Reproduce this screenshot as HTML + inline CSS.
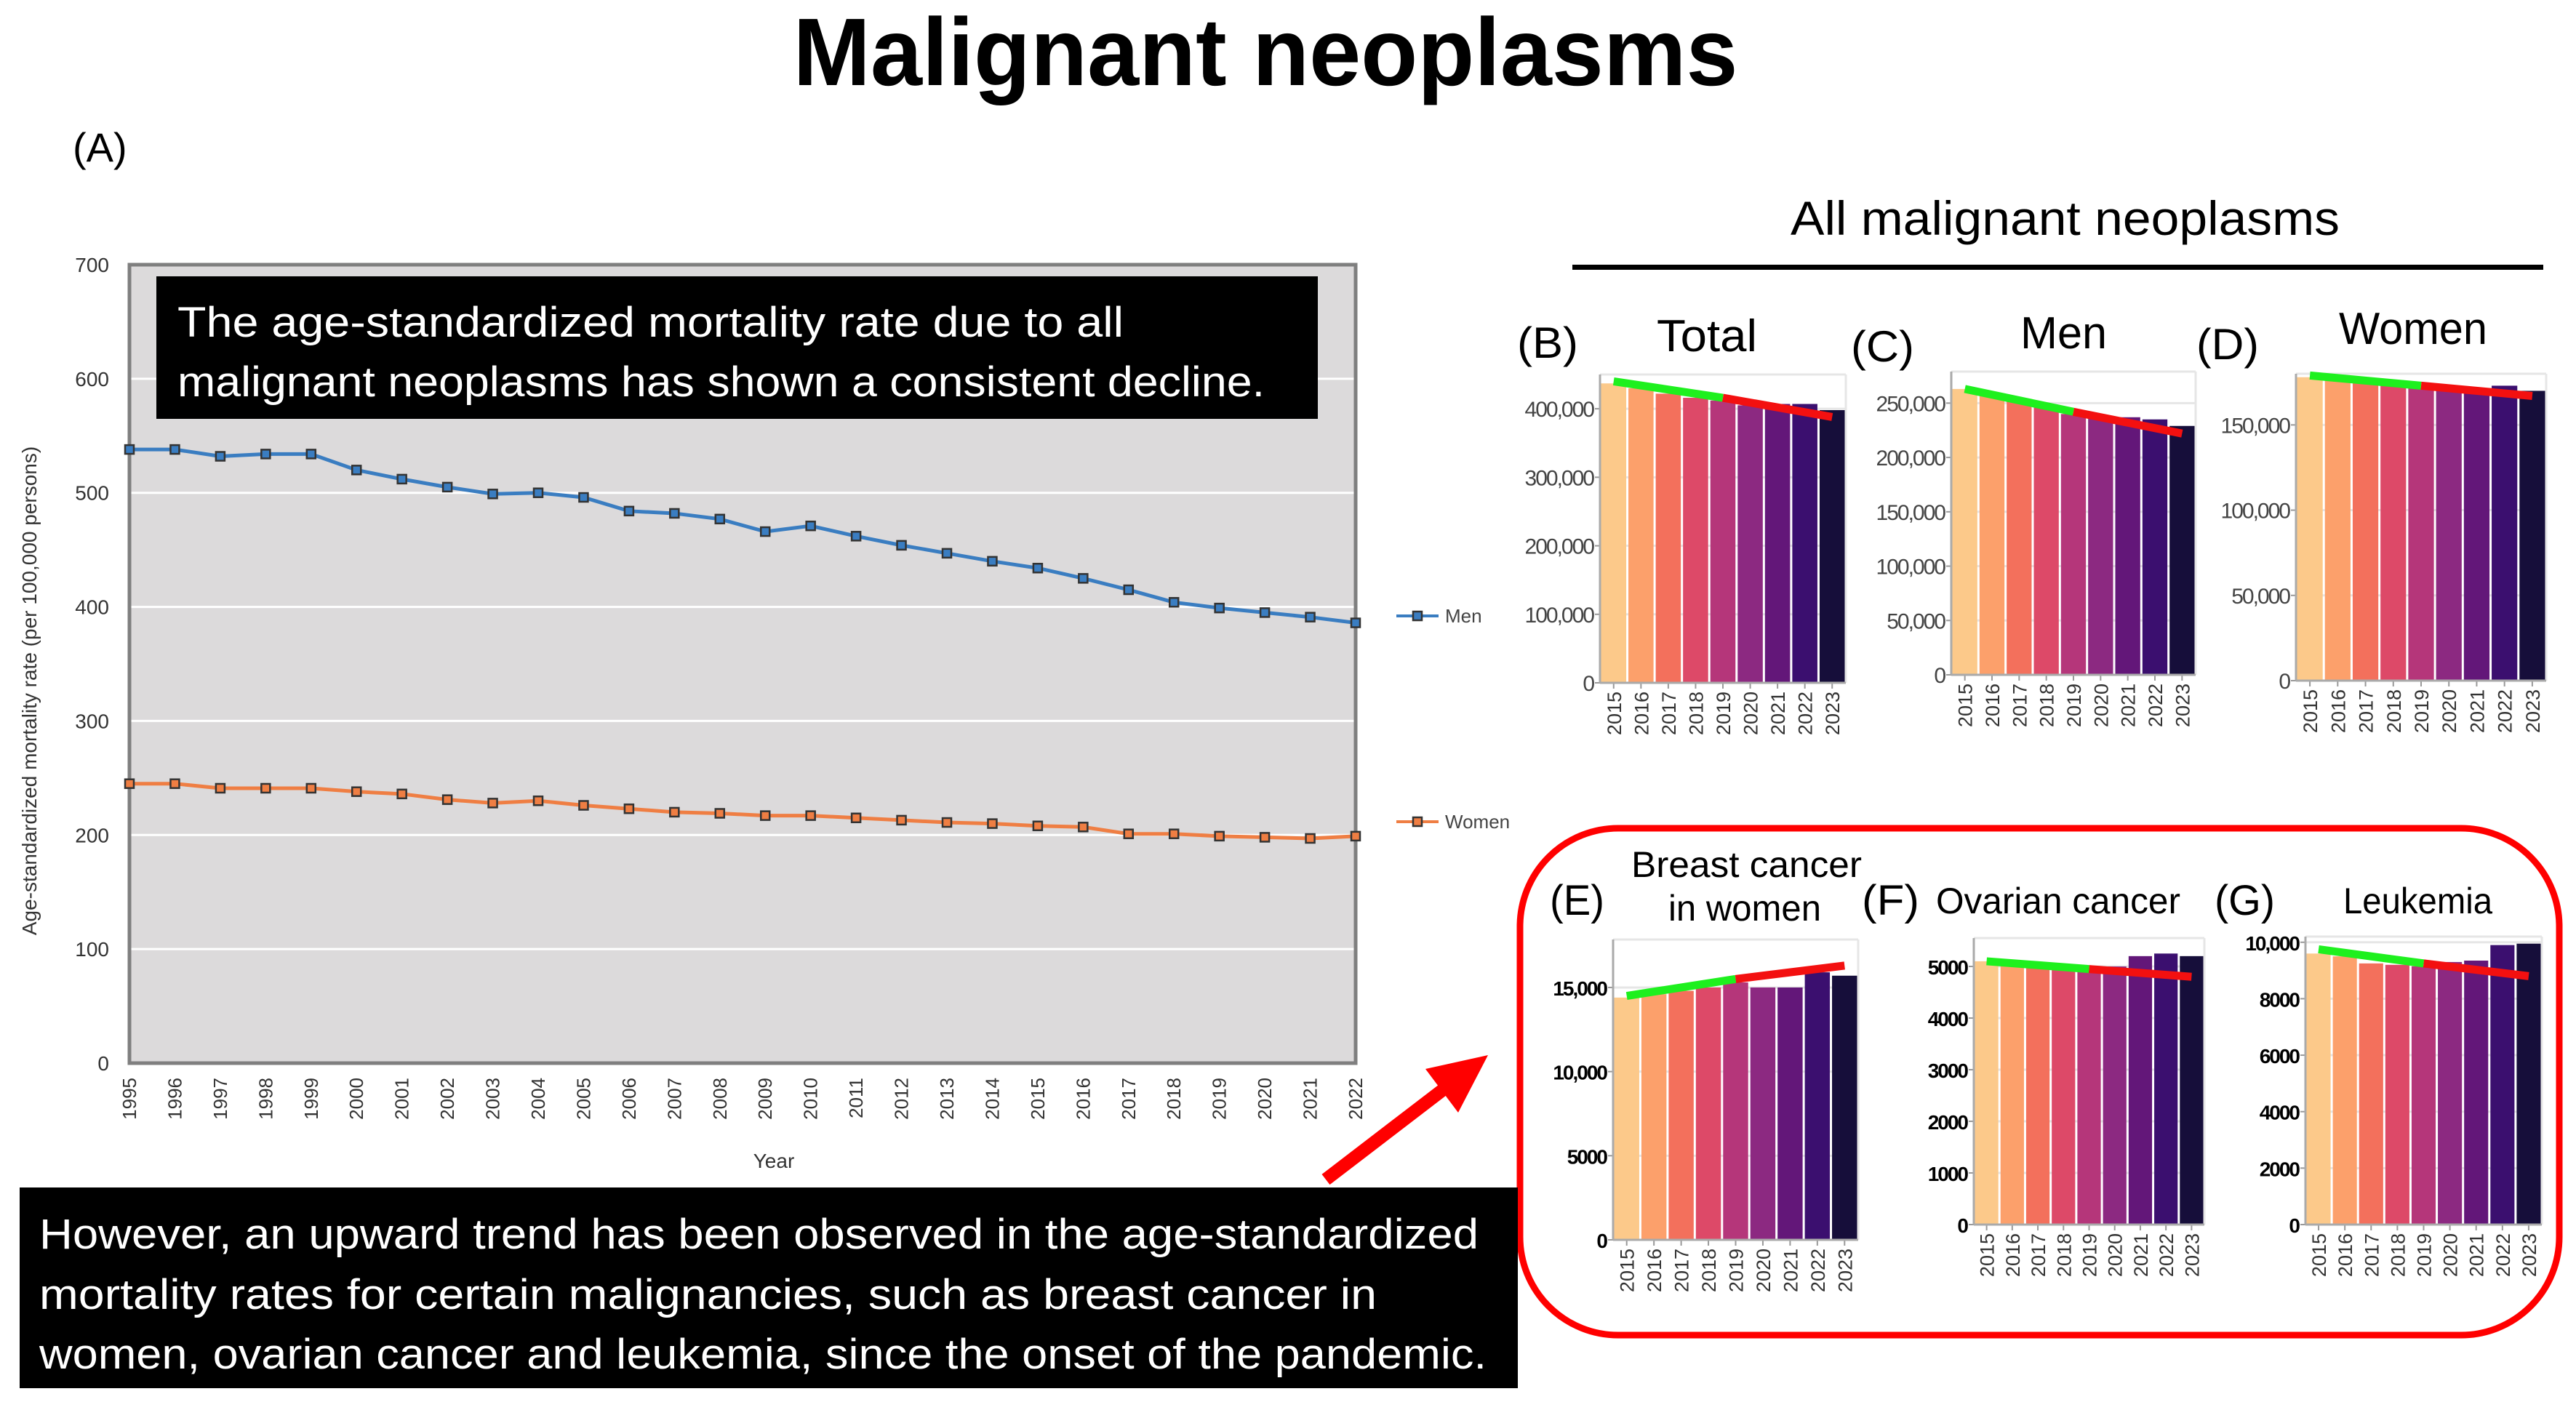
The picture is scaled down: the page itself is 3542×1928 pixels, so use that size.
<!DOCTYPE html>
<html><head><meta charset="utf-8"><style>
html,body{margin:0;padding:0;background:#fff;}
svg{display:block;}
text{font-family:"Liberation Sans","Noto Sans CJK JP",sans-serif;}
</style></head><body>
<svg id="root" width="3542" height="1928" viewBox="0 0 3542 1928" xmlns="http://www.w3.org/2000/svg">
<text x="1740" y="117" font-size="132" font-weight="bold" text-anchor="middle" textLength="1299" lengthAdjust="spacingAndGlyphs">Malignant neoplasms</text>
<text x="100" y="222" font-size="56">(A)</text>
<g id="chartA"></g>
<rect x="215" y="380" width="1597" height="196" fill="#000"/>
<text x="244" y="463" font-size="58" fill="#fff" textLength="1301" lengthAdjust="spacingAndGlyphs">The age-standardized mortality rate due to all</text>
<text x="244" y="545" font-size="58" fill="#fff" textLength="1495" lengthAdjust="spacingAndGlyphs">malignant neoplasms has shown a consistent decline.</text>
<text x="2462" y="323" font-size="66" textLength="755" lengthAdjust="spacingAndGlyphs">All malignant neoplasms</text>
<rect x="2162" y="364" width="1335" height="7" fill="#000"/>
<rect x="2090" y="1139" width="1429" height="697" rx="135" ry="135" fill="none" stroke="#f00" stroke-width="9"/>
<g id="small"></g>
<rect x="27" y="1633" width="2060" height="276" fill="#000"/>
<text x="54" y="1717" font-size="58" fill="#fff" textLength="1979" lengthAdjust="spacingAndGlyphs">However, an upward trend has been observed in the age-standardized</text>
<text x="54" y="1800" font-size="58" fill="#fff" textLength="1839" lengthAdjust="spacingAndGlyphs">mortality rates for certain malignancies, such as breast cancer in</text>
<text x="54" y="1882" font-size="58" fill="#fff" textLength="1990" lengthAdjust="spacingAndGlyphs">women, ovarian cancer and leukemia, since the onset of the pandemic.</text>
<line x1="1823" y1="1622" x2="1990" y2="1494" stroke="#f00" stroke-width="18"/>
<polygon points="2046,1451 1960,1470 2005,1530" fill="#f00"/>
</svg>
<script>
const NS='http://www.w3.org/2000/svg';
const yearsA=[1995,1996,1997,1998,1999,2000,2001,2002,2003,2004,2005,2006,2007,2008,2009,2010,2011,2012,2013,2014,2015,2016,2017,2018,2019,2020,2021,2022];
const menA=[538,538,532,534,534,520,512,505,499,500,496,484,482,477,466,471,462,454,447,440,434,425,415,404,399,395,391,386];
const womenA=[245,245,241,241,241,238,236,231,228,230,226,223,220,219,217,217,215,213,211,210,208,207,201,201,199,198,197,199];
const ticksA=[0,100,200,300,400,500,600,700];

const yearsS=[2015,2016,2017,2018,2019,2020,2021,2022,2023];
const totalVals=[437000,430000,422000,416000,412000,405000,407000,407000,398000];
const totalTrend=[440000,416000,388000];
const totalTicks=[0,100000,200000,300000,400000];
const menVals=[263000,258000,252000,246000,240000,237000,237000,235000,229000];
const menTrend=[263000,242000,222000];
const menTicks=[0,50000,100000,150000,200000,250000];
const womenVals=[178000,176000,175000,173000,172000,171000,171000,173000,170000];
const womenTrend=[179000,173000,167000];
const womenTicks=[0,50000,100000,150000];
const breastVals=[14400,14600,14800,15000,15300,15000,15000,15900,15700];
const breastTrend=[14500,15500,16300];
const breastTicks=[0,5000,10000,15000];
const ovarVals=[5100,5020,4980,4950,4920,5000,5200,5250,5200];
const ovarTrend=[5100,4950,4800];
const ovarTicks=[0,1000,2000,3000,4000,5000];
const leukVals=[9600,9500,9250,9200,9150,9300,9350,9900,9950];
const leukTrend=[9750,9250,8800];
const leukTicks=[0,2000,4000,6000,8000,10000];
const magma=['#fcc98a','#fca06b','#f3705c','#dd4968','#b5367a','#8c2981','#631779','#3b0f6f','#160e3a'];

function mk(tag,attrs,parent,txt){const e=document.createElementNS(NS,tag);for(const k in attrs)e.setAttribute(k,attrs[k]);if(txt!==undefined)e.textContent=txt;parent.appendChild(e);return e;}

// Chart A
(function(){
const g=document.getElementById('chartA');
const L=178,R=1864,T=364,B=1462;
const xA=i=>L+i*(R-L)/(yearsA.length-1);
const yA=v=>B-v*(B-T)/700;
let bg=mk('rect',{x:L,y:T,width:R-L,height:B-T,fill:'#dcdadb'},g);


ticksA.forEach(t=>{
 if(t>0&&t<700){let gl=mk('line',{x1:L,x2:R,y1:yA(t),y2:yA(t),stroke:'#fff','stroke-width':3},g);
 
 }
 let tl=mk('text',{x:150,y:yA(t)+10,'font-size':28,'text-anchor':'end',fill:'#333'},g,String(t));
 
 
});
let fr=mk('rect',{x:L,y:T,width:R-L,height:B-T,fill:'none',stroke:'#7f7f7f','stroke-width':5},g);


yearsA.forEach((yr,i)=>{
 let t=mk('text',{x:0,y:0,'font-size':26,'text-anchor':'end',fill:'#333',transform:`translate(${xA(i)+9},1482) rotate(-90)`},g,String(yr));
 
 
});
let xt=mk('text',{x:1064,y:1606,'font-size':28,'text-anchor':'middle',fill:'#333'},g,'Year');


let yt=mk('text',{x:0,y:0,'font-size':28,'text-anchor':'middle',fill:'#333',transform:'translate(50,950) rotate(-90)'},g,'Age-standardized mortality rate (per 100,000 persons)');


function series(vals,color,name){
 let p=mk('polyline',{points:vals.map((v,i)=>xA(i)+','+yA(v)).join(' '),fill:'none',stroke:color,'stroke-width':5},g);
 
 
 vals.forEach((v,i)=>{
  let m=mk('rect',{x:xA(i)-6,y:yA(v)-6,width:12,height:12,fill:color,stroke:'#333','stroke-width':2.5},g);
  
  
 });
}
series(menA,'#3a7dc1','men');
series(womenA,'#ef7e43','women');
function legend(y,color,label,name){
 let l=mk('line',{x1:1920,x2:1978,y1:y,y2:y,stroke:color,'stroke-width':4},g);
 
 
 let m=mk('rect',{x:1943,y:y-6,width:12,height:12,fill:color,stroke:'#333','stroke-width':2.5},g);
 
 
 let t=mk('text',{x:1987,y:y+9,'font-size':26,fill:'#444'},g,label);
 
 
}
legend(847,'#3a7dc1','Men','men');
legend(1130,'#ef7e43','Women','women');
})();

// small bar charts
function barChart(o){
 const g=mk('g',{},document.getElementById('small'));
 
 
 const {L,R,T,B,max,vals,ticks,trend}=o;
 const y=v=>B-v*(B-T)/max;
 const bw=(R-L)/vals.length;
 const cx=i=>L+bw*(i+0.5);
 let top=mk('line',{x1:L,x2:R,y1:T,y2:T,stroke:'#e6e6e6','stroke-width':3},g);
 
 
 let rb=mk('line',{x1:R,x2:R,y1:T,y2:B,stroke:'#e6e6e6','stroke-width':3},g);
 
 
 ticks.forEach(t=>{
  let gl=mk('line',{x1:L,x2:R,y1:y(t),y2:y(t),stroke:'#e6e6e6','stroke-width':3},g);
  
  
  let tk=mk('line',{x1:L-7,x2:L,y1:y(t),y2:y(t),stroke:'#999','stroke-width':2},g);
  
  
  let lab=t>=10000&&o.comma?t.toLocaleString('en-US'):String(t);
  let tl=mk('text',{x:L-9,y:y(t)+11,'font-size':o.fs,'text-anchor':'end',fill:o.tc,'font-weight':o.fw,'letter-spacing':-2},g,lab);
  
  
 });
 vals.forEach((v,i)=>{
  let b=mk('rect',{x:L+bw*i+1.5,y:y(v),width:bw-3,height:B-y(v),fill:magma[i]},g);
  
  
  let t=mk('text',{x:0,y:0,'font-size':27,'text-anchor':'end',fill:'#333','font-family':'DejaVu Sans Mono, monospace',transform:`translate(${cx(i)+10},${B+12}) rotate(-90)`},g,String(yearsS[i]));
  
  
  let xt=mk('line',{x1:cx(i),x2:cx(i),y1:B,y2:B+8,stroke:'#999','stroke-width':2},g);
  
  
 });
 let ax=mk('line',{x1:L,x2:L,y1:T,y2:B,stroke:'#aaa','stroke-width':3},g);
 
 
 let bx=mk('line',{x1:L,x2:R,y1:B,y2:B,stroke:'#aaa','stroke-width':3},g);
 
 
 let gt=mk('line',{x1:cx(0),x2:cx(4),y1:y(trend[0]),y2:y(trend[1]),stroke:'#1ef01e','stroke-width':11},g);
 
 
 let rt=mk('line',{x1:cx(4),x2:cx(8),y1:y(trend[1]),y2:y(trend[2]),stroke:'#f31010','stroke-width':11},g);
 
 
}
const common1={fs:30,tc:'#444',fw:'normal',comma:true};
const common2={fs:28,tc:'#000',fw:'bold',comma:true};
barChart(Object.assign({name:'total',L:2200,R:2538,T:515,B:939,max:450000,vals:totalVals,ticks:totalTicks,trend:totalTrend},common1));
barChart(Object.assign({name:'men',L:2683,R:3019,T:511,B:928,max:279000,vals:menVals,ticks:menTicks,trend:menTrend},common1));
barChart(Object.assign({name:'women',L:3157,R:3501,T:514,B:936,max:180000,vals:womenVals,ticks:womenTicks,trend:womenTrend},common1));
barChart(Object.assign({name:'breast',L:2218,R:2555,T:1292,B:1705,max:17850,vals:breastVals,ticks:breastTicks,trend:breastTrend},common2));
barChart(Object.assign({name:'ovarian',L:2714,R:3031,T:1290,B:1684,max:5550,vals:ovarVals,ticks:ovarTicks,trend:ovarTrend},common2));
barChart(Object.assign({name:'leukemia',L:3170,R:3495,T:1288,B:1684,max:10200,vals:leukVals,ticks:leukTicks,trend:leukTrend},common2));

// titles
const sg=document.getElementById('small');
function title(x,y,txt,fs,w,name){
 let t=mk('text',{x:x,y:y,'font-size':fs,textLength:w,lengthAdjust:'spacingAndGlyphs'},sg,txt);
 
 
}
title(2086,492,'(B)',60,84,'panel-b-label');
title(2278,483,'Total',62,138,'total-title');
title(2545,497,'(C)',60,87,'panel-c-label');
title(2778,479,'Men',62,119,'men-title');
title(3020,494,'(D)',60,86,'panel-d-label');
title(3216,473,'Women',62,204,'women-title');
title(2131,1258,'(E)',58,75,'panel-e-label');
title(2243,1206,'Breast cancer',50,317,'breast-title-line1');
title(2294,1266,'in women',50,210,'breast-title-line2');
title(2560,1258,'(F)',58,79,'panel-f-label');
title(2662,1256,'Ovarian cancer',50,336,'ovarian-title');
title(3045,1258,'(G)',58,83,'panel-g-label');
title(3222,1256,'Leukemia',50,205,'leukemia-title');
</script>
</body></html>
